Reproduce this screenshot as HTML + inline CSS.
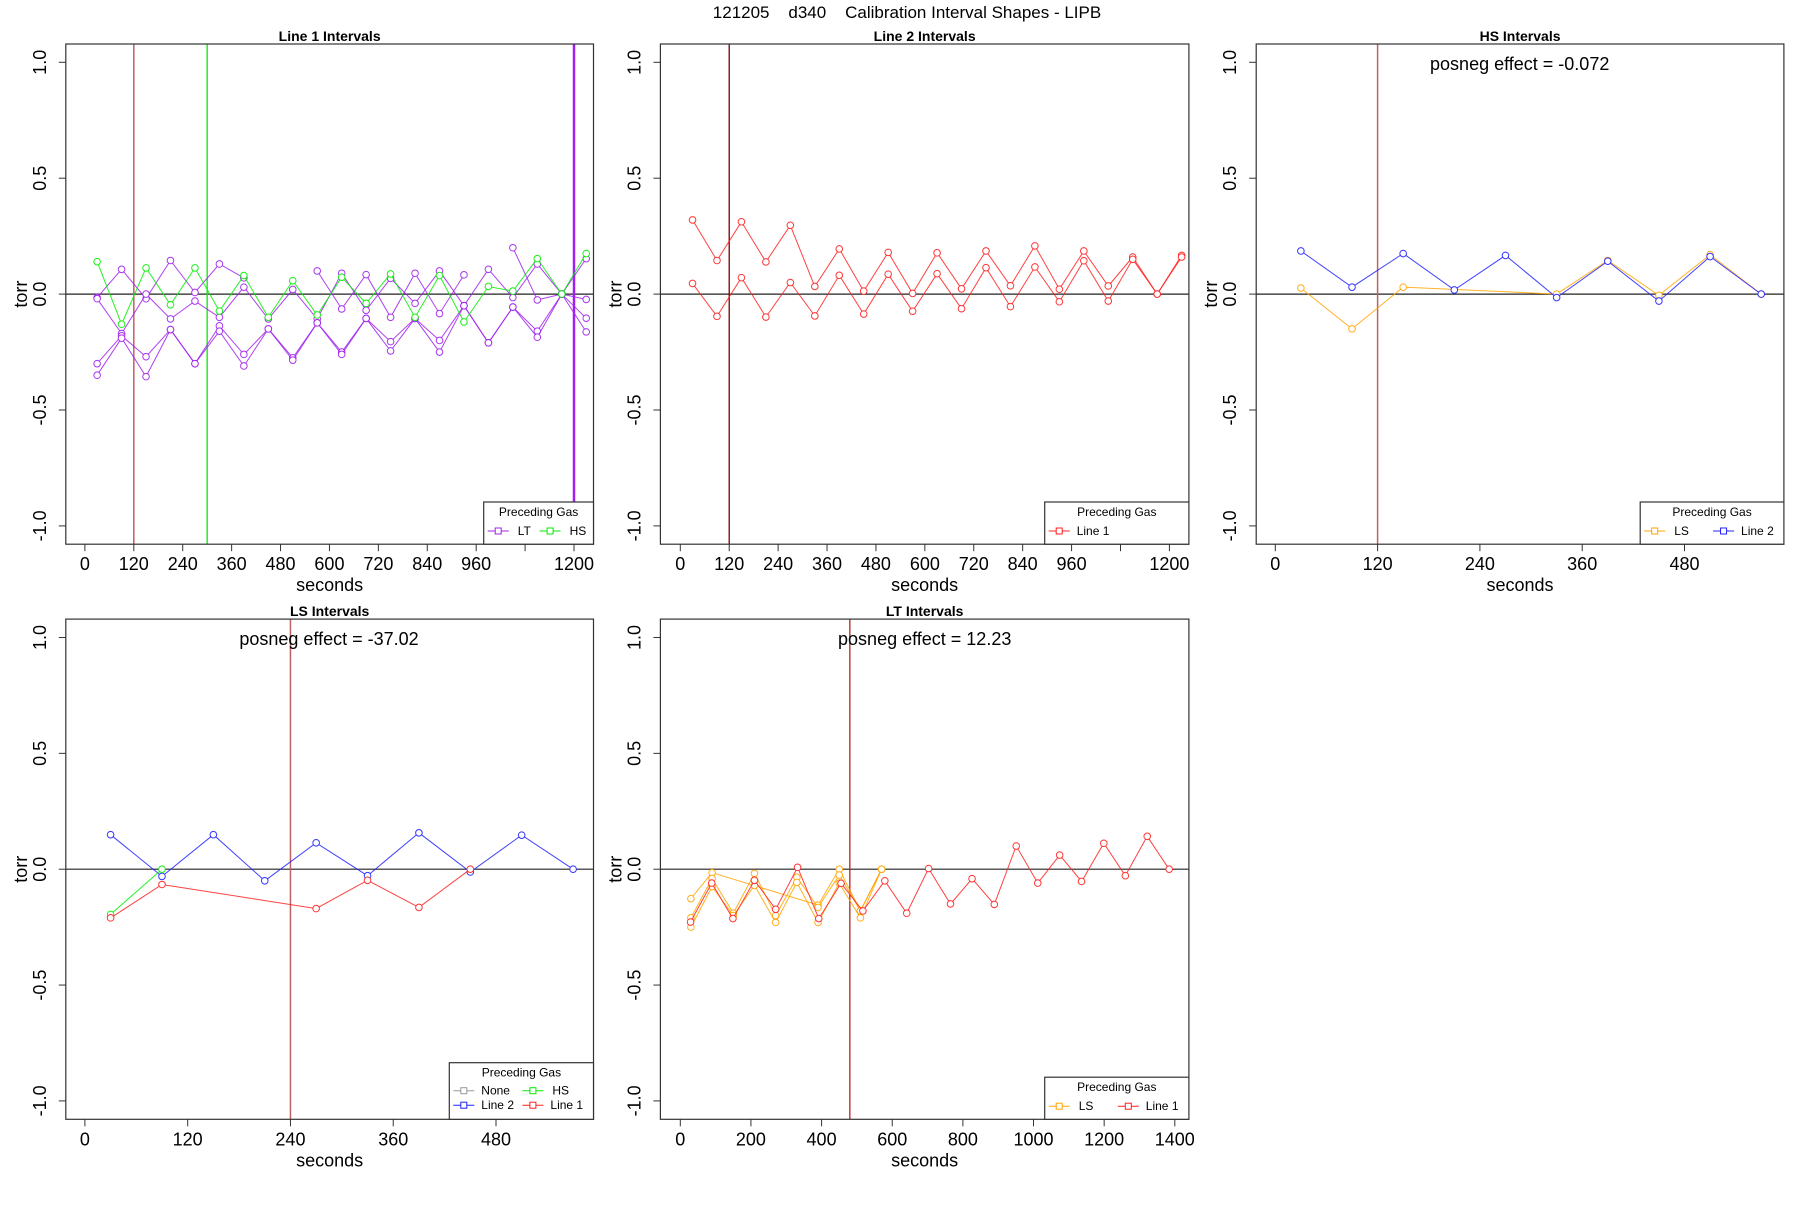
<!DOCTYPE html>
<html><head><meta charset="utf-8"><style>
html,body{margin:0;padding:0;background:#fff}
svg text{font-family:"Liberation Sans",sans-serif}
</style></head><body>
<svg id="chart" width="1800" height="1200" viewBox="0 0 1800 1200" xmlns="http://www.w3.org/2000/svg">
<rect x="0" y="0" width="1800" height="1200" fill="#fff"/>
<text x="907" y="18" font-size="17" text-anchor="middle" style="white-space:pre">121205    d340    Calibration Interval Shapes - LIPB</text>
</svg>
<script>
// ---- Panel 1: Line 1 Intervals ----
const p1xLT = [30,90,150,210,270,330,390,450,510,570,630,690,750,810,870,930,990,1050,1110,1170,1230];
const p1LTa = [-0.015,0.107,-0.02,0.145,0.007,0.13,0.07,null,null,0.10,-0.064,0.084,-0.1,0.09,-0.084,0.083,null,0.2,-0.025,0,0.153];
const p1LTb = [-0.02,-0.17,0,-0.107,-0.03,-0.10,0.03,-0.107,0.02,-0.107,0.09,-0.07,0.068,-0.04,0.10,-0.05,0.107,-0.015,0.13,0,-0.023];
const p1LTc = [-0.30,-0.18,-0.27,-0.153,-0.30,-0.137,-0.26,-0.15,-0.275,-0.124,-0.25,-0.105,-0.205,-0.105,-0.2,-0.05,-0.21,-0.056,-0.16,0,-0.104];
const p1LTd = [-0.35,-0.19,-0.356,-0.153,-0.30,-0.16,-0.31,-0.15,-0.285,-0.124,-0.26,-0.105,-0.245,-0.105,-0.25,-0.05,-0.21,-0.056,-0.186,0,-0.163];
const p1HS = [0.14,-0.13,0.113,-0.046,0.113,-0.073,0.08,-0.10,0.058,-0.09,0.073,-0.04,0.087,-0.1,0.08,-0.12,0.033,0.013,0.153,0,0.175];
const p1Vlines = [120,300,1200];
const p1XTicks = [0,120,240,360,480,600,720,840,960,1080,1200];
const p1XLabels = ["0","120","240","360","480","600","720","840","960","","1200"];
// ---- Panel 2: Line 2 Intervals ----
const p2x = [30,90,150,210,270,330,390,450,510,570,630,690,750,810,870,930,990,1050,1110,1170,1230];
const p2Upper = [0.32,0.145,0.312,0.139,0.297,0.033,0.195,0.013,0.18,0.003,0.178,0.023,0.186,0.036,0.208,0.021,0.186,0.035,0.16,0,0.167];
const p2Lower = [0.046,-0.096,0.071,-0.099,0.05,-0.094,0.081,-0.086,0.086,-0.074,0.088,-0.063,0.114,-0.054,0.117,-0.033,0.144,-0.03,0.15,0,0.16];
const p2Vlines = [120];
// ---- Panel 3: HS Intervals ----
const p3xBlue = [30,90,150,210,270,330,390,450,510,570];
const p3Blue = [0.186,0.03,0.175,0.018,0.167,-0.015,0.142,-0.03,0.162,0];
const p3xOrange = [30,90,150,330,390,450,510,570];
const p3Orange = [0.026,-0.15,0.03,0,0.145,-0.005,0.17,0];
const p3Vlines = [120];
const shortXTicks = [0,120,240,360,480];
const shortXLabels = ["0","120","240","360","480"];
// ---- Panel 4: LS Intervals ----
const p4xBlue = [30,90,150,210,270,330,390,450,510,570];
const p4Blue = [0.149,-0.031,0.149,-0.05,0.114,-0.028,0.157,-0.012,0.147,0];
const p4xGreen = [30,90];
const p4Green = [-0.195,0];
const p4xRed = [30,90,270,330,390,450];
const p4Red = [-0.21,-0.066,-0.17,-0.048,-0.165,0];
const p4Vlines = [240];
// ---- Panel 5: LT Intervals ----
const p5xRed = [29,89,149,210,270,332,392,455,517,579,641,703,765,826,889,951,1012,1074,1136,1199,1260,1322,1384];
const p5Red = [-0.228,-0.06,-0.213,-0.048,-0.173,0.008,-0.213,-0.061,-0.18,-0.05,-0.19,0.003,-0.15,-0.041,-0.152,0.1,-0.06,0.061,-0.053,0.112,-0.028,0.142,0];
const p5xO1 = [30,90,390,450,510,570];
const p5O1 = [-0.127,-0.015,-0.155,0,-0.18,0];
const p5xO = [30,90,150,210,270,330,390,450,510,570];
const p5O2 = [-0.21,-0.04,-0.19,-0.018,-0.2,-0.035,-0.165,-0.025,-0.18,0];
const p5O3 = [-0.25,-0.075,-0.2,-0.07,-0.23,-0.057,-0.23,-0.06,-0.21,0];
const p5Vlines = [480];
const p5XTicks = [0,200,400,600,800,1000,1200,1400];
const p5XLabels = ["0","200","400","600","800","1000","1200","1400"];
const yTicks = [-1.0,-0.5,0.0,0.5,1.0];
const yLabels = ["-1.0","-0.5","0.0","0.5","1.0"];

const NS = "http://www.w3.org/2000/svg";
const svg = document.getElementById('chart');
function mk(tag, attrs, parent){const e=document.createElementNS(NS,tag);for(const k in attrs)e.setAttribute(k,attrs[k]);(parent||svg).appendChild(e);return e;}

function panel(cfg){
  const g = mk('g',{});
  
  
  const xs = v => cfg.x0 + (v - 0) * (cfg.xEnd - cfg.x0) / cfg.xEndVal;
  const ys = v => cfg.y0 - v * (cfg.y0 - cfg.y1);
  const t = mk('text',{x:(cfg.L+cfg.R)/2,y:cfg.T-3,'font-size':14,'font-weight':'bold','text-anchor':'middle'},g);
  t.textContent = cfg.title;
  
  
  const zl = mk('line',{x1:cfg.L,x2:cfg.R,y1:ys(0),y2:ys(0),stroke:'#222','stroke-width':1.2},g);
  
  
  cfg.vlines.forEach((v,i)=>{
    const vl = mk('line',{x1:xs(v),x2:xs(v),y1:cfg.T,y2:cfg.B,stroke:cfg.vcolors[i],'stroke-width':cfg.vwidths[i]},g);
    
    
  });
  cfg.series.forEach(s=>{
    const sg = mk('g',{},g);
    
    
    let d='';let pen=false;
    s.y.forEach((v,i)=>{ if(v===null){pen=false;return;} d+=(pen?'L':'M')+xs(s.x[i]).toFixed(1)+' '+ys(v).toFixed(1)+' '; pen=true; });
    mk('path',{d:d,fill:'none',stroke:s.color,'stroke-width':1,'stroke-opacity':0.85},sg);
    s.y.forEach((v,i)=>{ if(v===null)return;
      const c = mk('circle',{cx:xs(s.x[i]),cy:ys(v),r:3.3,fill:'#fff',stroke:s.color,'stroke-width':1,'stroke-opacity':0.9},sg);
      
      
    });
  });
  const bx = mk('rect',{x:cfg.L,y:cfg.T,width:cfg.R-cfg.L,height:cfg.B-cfg.T,fill:'none',stroke:'#333','stroke-width':1.2},g);
  
  
  cfg.xticks.forEach((v,i)=>{
    const x = xs(v);
    mk('line',{x1:x,x2:x,y1:cfg.B,y2:cfg.B+7,stroke:'#333','stroke-width':1},g);
    if(cfg.xlabels[i]){
      const tl = mk('text',{x:x,y:cfg.B+26,'font-size':18,'text-anchor':'middle'},g);
      tl.textContent = cfg.xlabels[i];
      
      
    }
  });
  const xt = mk('text',{x:(cfg.L+cfg.R)/2,y:cfg.B+47,'font-size':18,'text-anchor':'middle'},g);
  xt.textContent='seconds';
  
  
  yTicks.forEach((v,i)=>{
    const y = ys(v);
    mk('line',{x1:cfg.L,x2:cfg.L-7,y1:y,y2:y,stroke:'#333','stroke-width':1},g);
    const lx = cfg.L-20;
    const tl = mk('text',{x:lx,y:y,'font-size':18,'text-anchor':'middle',transform:'rotate(-90 '+lx+' '+y+')'},g);
    tl.textContent = yLabels[i];
    
    
  });
  const yx = cfg.L-39, ymid=(cfg.T+cfg.B)/2;
  const yt = mk('text',{x:yx,y:ymid,'font-size':18,'text-anchor':'middle',transform:'rotate(-90 '+yx+' '+ymid+')'},g);
  yt.textContent='torr';
  
  
  if(cfg.note){
    const nt = mk('text',{x:cfg.noteX,y:cfg.T+26,'font-size':18,'text-anchor':'middle'},g);
    nt.textContent = cfg.note;
    
    
  }
  const lg = mk('g',{},g);
  
  
  const lw = cfg.R - cfg.legL, lh = cfg.B - cfg.legT;
  mk('rect',{x:cfg.legL,y:cfg.legT,width:lw,height:lh,fill:'#fff',stroke:'#333','stroke-width':1.2},lg);
  const lt = mk('text',{x:cfg.legL+lw/2,y:cfg.legT+14,'font-size':12,'text-anchor':'middle'},lg);
  lt.textContent='Preceding Gas';
  const cols = 2, colW = (lw-6)/cols;
  cfg.legend.forEach((e,i)=>{
    const col=i%cols,row=Math.floor(i/cols);
    const ex = cfg.legL+4+col*colW, ey = cfg.legT + (cfg.legend.length>2?32:33) + row*14.5;
    const eg = mk('g',{},lg);
    
    
    mk('line',{x1:ex,x2:ex+21,y1:ey-4,y2:ey-4,stroke:e.color,'stroke-width':1},eg);
    mk('rect',{x:ex+7.5,y:ey-7,width:6,height:6,fill:'#fff',stroke:e.color,'stroke-width':1},eg);
    const et = mk('text',{x:ex+(e.label.length>3?28:30),y:ey,'font-size':12},eg);
    et.textContent = e.label;
  });
}

const PUR='#a020f0',GRN='#00ee00',RED='#ff2020',ORG='#ffa500',BLU='#2020ff',VR='#c06060';
panel({name:'panel-line1-intervals',title:'Line 1 Intervals',L:65.8,R:593.5,T:44,B:544.2,x0:84.9,xEnd:574,xEndVal:1200,y0:294.1,y1:62.3,
  vlines:p1Vlines,vcolors:[VR,GRN,PUR],vwidths:[1.5,1.3,2.5],xticks:p1XTicks,xlabels:p1XLabels,
  series:[{name:'lt-series-a',x:p1xLT,y:p1LTa,color:PUR},{name:'lt-series-b',x:p1xLT,y:p1LTb,color:PUR},{name:'lt-series-c',x:p1xLT,y:p1LTc,color:PUR},{name:'lt-series-d',x:p1xLT,y:p1LTd,color:PUR},{name:'hs-series',x:p1xLT,y:p1HS,color:GRN}],
  legL:483.7,legT:502,legend:[{label:'LT',color:PUR},{label:'HS',color:GRN}]});
panel({name:'panel-line2-intervals',title:'Line 2 Intervals',L:660.4,R:1188.9,T:44,B:544.2,x0:680.3,xEnd:1169.4,xEndVal:1200,y0:294.1,y1:62.3,
  vlines:p2Vlines,vcolors:['#7a0000'],vwidths:[1.3],xticks:p1XTicks,xlabels:p1XLabels,
  series:[{name:'line1-series-upper',x:p2x,y:p2Upper,color:RED},{name:'line1-series-lower',x:p2x,y:p2Lower,color:RED}],
  legL:1044.7,legT:502,legend:[{label:'Line 1',color:RED}]});
panel({name:'panel-hs-intervals',title:'HS Intervals',L:1256.2,R:1783.9,T:44,B:544.2,x0:1275.3,xEnd:1684.5,xEndVal:480,y0:294.1,y1:62.3,
  vlines:p3Vlines,vcolors:[VR],vwidths:[1.5],xticks:shortXTicks,xlabels:shortXLabels,
  series:[{name:'ls-series',x:p3xOrange,y:p3Orange,color:ORG},{name:'line2-series',x:p3xBlue,y:p3Blue,color:BLU}],
  note:'posneg effect = -0.072',noteX:1519.7,
  legL:1640.2,legT:502,legend:[{label:'LS',color:ORG},{label:'Line 2',color:BLU}]});
panel({name:'panel-ls-intervals',title:'LS Intervals',L:65.8,R:593.5,T:619.1,B:1119.3,x0:84.9,xEnd:496,xEndVal:480,y0:869.2,y1:637.5,
  vlines:p4Vlines,vcolors:[VR],vwidths:[1.5],xticks:shortXTicks,xlabels:shortXLabels,
  series:[{name:'line2-series',x:p4xBlue,y:p4Blue,color:BLU},{name:'hs-series',x:p4xGreen,y:p4Green,color:GRN},{name:'line1-series',x:p4xRed,y:p4Red,color:RED}],
  note:'posneg effect = -37.02',noteX:329,
  legL:449.3,legT:1062.7,legend:[{label:'None',color:'#999'},{label:'HS',color:GRN},{label:'Line 2',color:BLU},{label:'Line 1',color:RED}]});
panel({name:'panel-lt-intervals',title:'LT Intervals',L:660.4,R:1188.9,T:619.1,B:1119.3,x0:680.3,xEnd:1174.8,xEndVal:1400,y0:869.2,y1:637.5,
  vlines:p5Vlines,vcolors:['#b22222'],vwidths:[1.3],xticks:p5XTicks,xlabels:p5XLabels,
  series:[{name:'ls-series-a',x:p5xO1,y:p5O1,color:ORG},{name:'ls-series-b',x:p5xO,y:p5O2,color:ORG},{name:'ls-series-c',x:p5xO,y:p5O3,color:ORG},{name:'line1-series',x:p5xRed,y:p5Red,color:RED}],
  note:'posneg effect = 12.23',noteX:924.7,
  legL:1044.7,legT:1077.2,legend:[{label:'LS',color:ORG},{label:'Line 1',color:RED}]});
</script>
</body></html>
